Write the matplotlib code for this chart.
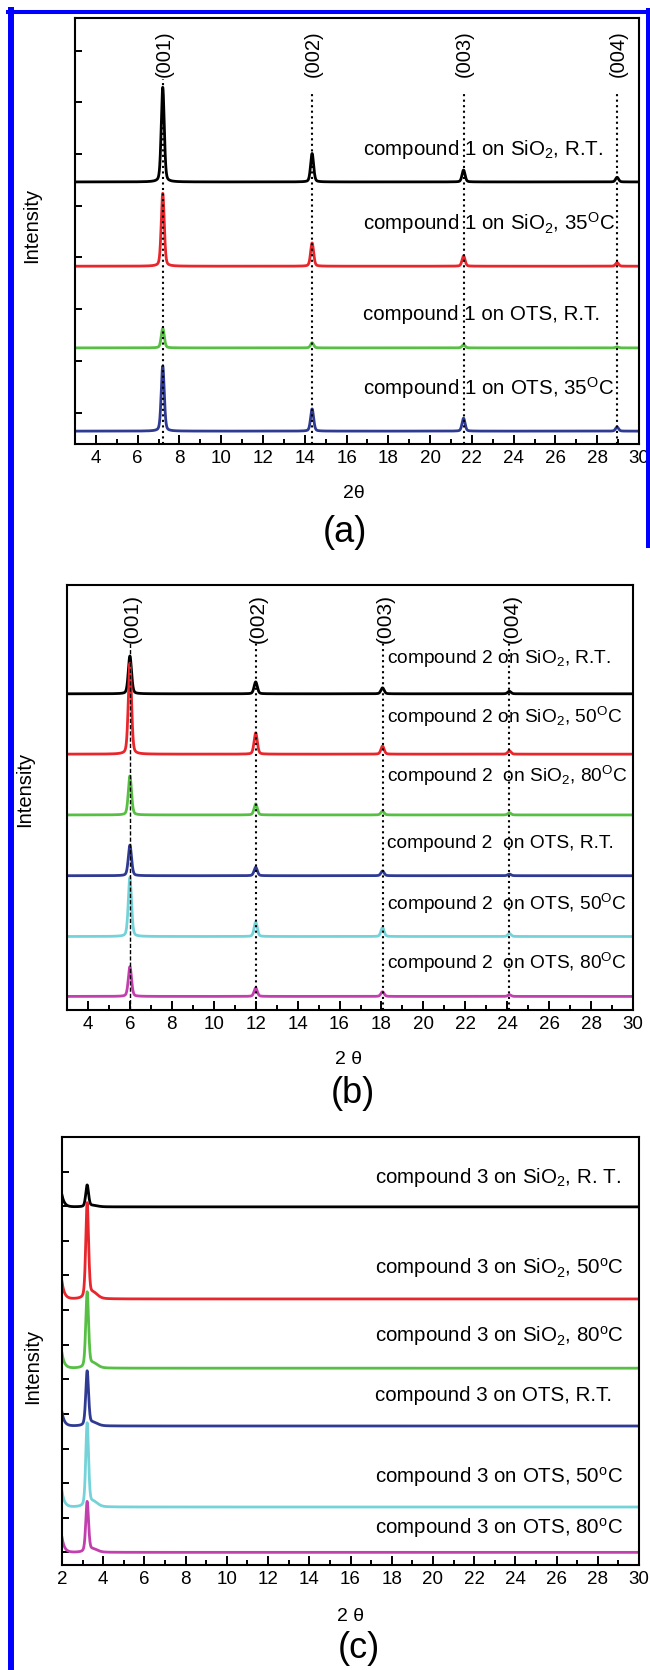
import numpy as np
import matplotlib
matplotlib.use('Agg')
import matplotlib.pyplot as plt
from matplotlib.lines import Line2D

plt.rcParams['font.family'] = ['Liberation Sans', 'DejaVu Sans']
plt.rcParams['mathtext.fontset'] = 'custom'
plt.rcParams['mathtext.rm'] = 'Liberation Sans'
plt.rcParams['mathtext.it'] = 'Liberation Sans:italic'
plt.rcParams['mathtext.bf'] = 'Liberation Sans:bold'

colors = ['black', '#e8262b', '#58bf45', '#2f3a92', '#74d3d9', '#c23fae']

# ---- panel (a): compound 1 ----
a_hkl = ['(001)', '(002)', '(003)', '(004)']
a_pos = [7.2, 14.35, 21.6, 28.95]
a_labels = ['compound 1 on SiO$_2$, R.T.',
            'compound 1 on SiO$_2$, 35$^\\mathrm{O}$C',
            'compound 1 on OTS, R.T.',
            'compound 1 on OTS, 35$^\\mathrm{O}$C']
a_base = [5.46, 3.83, 2.25, 0.64]
a_height = [[1.83, 0.55, 0.23, 0.09],
            [1.41, 0.45, 0.20, 0.07],
            [0.38, 0.10, 0.06, 0.02],
            [1.26, 0.43, 0.25, 0.08]]
a_text_y = [6.08, 4.67, 2.90, 1.48]

# ---- panel (b): compound 2 ----
b_hkl = ['(001)', '(002)', '(003)', '(004)']
b_pos = [6.0, 12.0, 18.05, 24.1]
b_labels = ['compound 2 on SiO$_2$, R.T.',
            'compound 2 on SiO$_2$, 50$^\\mathrm{O}$C',
            'compound 2  on SiO$_2$, 80$^\\mathrm{O}$C',
            'compound 2  on OTS, R.T.',
            'compound 2  on OTS, 50$^\\mathrm{O}$C',
            'compound 2  on OTS, 80$^\\mathrm{O}$C']
b_base = [74.4, 60.2, 45.9, 31.6, 17.3, 3.2]
b_height = [[8.9, 2.8, 1.4, 0.6],
            [21.4, 5.0, 1.9, 0.8],
            [9.2, 2.6, 0.9, 0.5],
            [7.2, 2.0, 1.1, 0.4],
            [13.9, 3.4, 2.1, 0.7],
            [7.0, 2.0, 1.1, 0.4]]
b_text_y = [82.8, 69.0, 55.1, 39.2, 25.0, 11.1]

# ---- panel (c): compound 3 ----
c_pos = 3.22
c_labels = ['compound 3 on SiO$_2$, R. T.',
            'compound 3 on SiO$_2$, 50$^\\mathrm{o}$C',
            'compound 3 on SiO$_2$, 80$^\\mathrm{o}$C',
            'compound 3 on OTS, R.T.',
            'compound 3 on OTS, 50$^\\mathrm{o}$C',
            'compound 3 on OTS, 80$^\\mathrm{o}$C']
c_base = [10.98, 8.32, 6.32, 4.65, 2.31, 1.0]
c_height = [0.62, 2.72, 2.16, 1.56, 2.38, 1.44]
c_low = [0.34, 0.49, 0.43, 0.39, 0.45, 0.43]
c_text_y = [11.82, 9.22, 7.25, 5.52, 3.19, 1.70]


def peak(x, x0, h, w):
    g = np.exp(-4 * np.log(2) * ((x - x0) / w) ** 2)
    l = 1.0 / (1 + 4 * ((x - x0) / w) ** 2)
    return h * (0.7 * g + 0.3 * l)


def style(ax, xmin, first, ylim, yticks):
    ax.set_xlim(xmin, 30)
    ax.set_ylim(*ylim)
    ax.set_xticks(np.arange(first, 31, 2))
    ax.set_xticks(np.arange(3, 30, 2), minor=True)
    ax.set_yticks(yticks)
    ax.set_yticklabels([])
    ax.tick_params(axis='x', which='major', direction='in', length=6.5, width=1.4,
                   labelsize=13.5, pad=4, top=False)
    ax.tick_params(axis='x', which='minor', direction='in', length=3.5, width=1.4, top=False)
    ax.tick_params(axis='y', direction='in', length=5, width=1.4, right=False)
    for s in ax.spines.values():
        s.set_linewidth(1.5)


fig = plt.figure(figsize=(6.5, 16.7), dpi=100)

# panel (a)
ax = fig.add_axes([0.1154, 0.7341, 0.8677, 0.2551])
x = np.linspace(3, 30, 5401)
for i in range(4):
    y = np.full_like(x, a_base[i])
    for p, h in zip(a_pos, a_height[i]):
        y = y + peak(x, p, h, 0.17)
    ax.plot(x, y, color=colors[i], lw=2.0)
    ax.text(16.8, a_text_y[i], a_labels[i], fontsize=14.8, va='center', ha='left')
for j, p in enumerate(a_pos):
    top = 7.45 if j == 0 else 7.2
    ax.plot([p, p], [0.39, top], color='black', ls=':', lw=1.5, zorder=5)
    ax.text(p + 0.05, 7.95, a_hkl[j], rotation=90, fontsize=14.5, ha='center', va='center')
style(ax, 3, 4, (0.39, 8.63), np.arange(1, 9))

fig.text(0.544, 0.7042, '2θ', fontsize=14, ha='center', va='center')
fig.text(0.53, 0.6814, '(a)', fontsize=26, ha='center', va='center')
fig.text(0.048, 0.8653, 'Intensity', fontsize=14.5, rotation=90, ha='center', va='center')

# panel (b)
ax = fig.add_axes([0.1031, 0.3952, 0.8708, 0.2545])
for i in range(6):
    y = np.full_like(x, b_base[i])
    for p, h in zip(b_pos, b_height[i]):
        y = y + peak(x, p, h, 0.18)
    ax.plot(x, y, color=colors[i], lw=2.0)
    ax.text(18.25, b_text_y[i], b_labels[i], fontsize=13.8, va='center', ha='left')
for j, p in enumerate(b_pos):
    ls = (0, (3, 1.5)) if j == 0 else ':'
    lw = 1.0 if j == 0 else 1.5
    ax.plot([p, p], [0, 86.4], color='black', ls=ls, lw=lw, zorder=5)
    ax.text(p + 0.12, 92.1, b_hkl[j], rotation=90, fontsize=15, ha='center', va='center')
style(ax, 3, 4, (0, 100), [])

fig.text(0.536, 0.3653, '2 θ', fontsize=14, ha='center', va='center')
fig.text(0.5426, 0.3455, '(b)', fontsize=26, ha='center', va='center')
fig.text(0.0385, 0.527, 'Intensity', fontsize=14.5, rotation=90, ha='center', va='center')

# panel (c)
ax = fig.add_axes([0.0954, 0.0629, 0.8877, 0.2563])
xc = np.linspace(2, 30, 5601)
for i in range(6):
    y = c_base[i] + c_low[i] * np.exp(-(xc - 2) / 0.12)
    y = y + peak(xc, c_pos, c_height[i], 0.16) + peak(xc, c_pos + 0.3, 0.06 * c_height[i], 0.5)
    ax.plot(xc, y, color=colors[i], lw=2.0)
    ax.text(17.2, c_text_y[i], c_labels[i], fontsize=14.8, va='center', ha='left')
style(ax, 2, 2, (0.636, 13.0), np.arange(1, 13))

fig.text(0.539, 0.0323, '2 θ', fontsize=14, ha='center', va='center')
fig.text(0.552, 0.0126, '(c)', fontsize=26, ha='center', va='center')
fig.text(0.0508, 0.182, 'Intensity', fontsize=14.5, rotation=90, ha='center', va='center')

# blue frame
fig.add_artist(Line2D([11.2 / 650, 11.2 / 650], [0, 1 - 10 / 1670], color='#0000ff', lw=4.3))
fig.add_artist(Line2D([8 / 650, 1], [1 - 12 / 1670, 1 - 12 / 1670], color='#0000ff', lw=2.9))
fig.add_artist(Line2D([647.5 / 650, 647.5 / 650], [1 - 10 / 1670, 1 - 545 / 1670], color='#0000ff', lw=3.6))

fig.savefig('out.png', dpi=100)
